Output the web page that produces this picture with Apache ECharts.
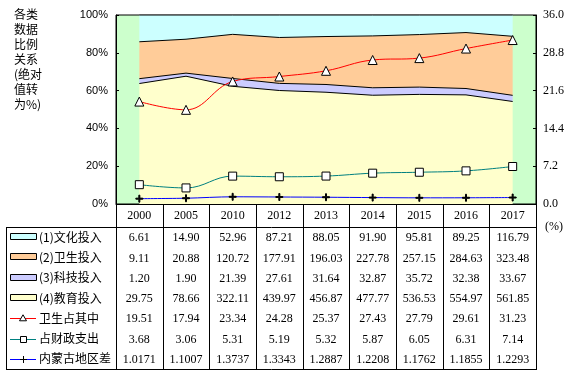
<!DOCTYPE html>
<html>
<head>
<meta charset="utf-8">
<script src="https://cdn.jsdelivr.net/npm/echarts@6/dist/echarts.min.js"></script>
<style>
  html, body { margin: 0; padding: 0; background: #fff; }
  #chart { width: 577px; height: 376px; }
</style>
</head>
<body>
<div id="chart"></div>
<script>
  // data
  let years = ['2000', '2005', '2010', '2012', '2013', '2014', '2015', '2016', '2017']
  let culture = [6.61, 14.90, 52.96, 87.21, 88.05, 91.90, 95.81, 89.25, 116.79]
  let health = [9.11, 20.88, 120.72, 177.91, 196.03, 227.78, 257.15, 284.63, 323.48]
  let science = [1.20, 1.90, 21.39, 27.61, 31.64, 32.87, 35.72, 32.38, 33.67]
  let education = [29.75, 78.66, 322.11, 439.97, 456.87, 477.77, 536.53, 554.97, 561.85]
  let healthShare = [19.51, 17.94, 23.34, 24.28, 25.37, 27.43, 27.79, 29.61, 31.23]
  let fiscalShare = [3.68, 3.06, 5.31, 5.19, 5.32, 5.87, 6.05, 6.31, 7.14]
  let regionGap = [1.0171, 1.1007, 1.3737, 1.3343, 1.2887, 1.2208, 1.1762, 1.1855, 1.2293]
  let rowNames = ['(1)文化投入', '(2)卫生投入', '(3)科技投入', '(4)教育投入', '卫生占其中', '占财政支出', '内蒙古地区差']
  let titleLines = ['各类', '数据', '比例', '关系', '(绝对', '值转', '为%)']

  // 100% stacked: each category's share of the yearly total
  let totals = years.map((y, i) => culture[i] + health[i] + science[i] + education[i])
  let pct = arr => arr.map((v, i) => v / totals[i] * 100)

  let L = 116, R = 536, T = 15, B = 204
  let colW = (R - L) / years.length
  let tableTop = 227, tableBottom = 369
  let rowH = (tableBottom - tableTop) / rowNames.length
  let serif = '"Liberation Serif", "Times New Roman", serif'
  let cjk = '"Noto Sans CJK SC", sans-serif'

  let graphic = []
  let hline = (x1, x2, y) => graphic.push({type: 'line', shape: {x1: x1, y1: y + 0.5, x2: x2, y2: y + 0.5}, style: {stroke: '#000', lineWidth: 1}, z: 10})
  let vline = (x, y1, y2) => graphic.push({type: 'line', shape: {x1: Math.round(x) + 0.5, y1: y1, x2: Math.round(x) + 0.5, y2: y2}, style: {stroke: '#000', lineWidth: 1}, z: 10})

  // title text on the left
  titleLines.forEach((t, i) => {
    graphic.push({type: 'text', left: 14, top: 8 + i * 15, style: {text: t, font: '12px ' + cjk, fill: '#000'}})
  })
  graphic.push({type: 'text', left: 545, top: 221, style: {text: '(%)', font: '12px ' + serif, fill: '#000'}})

  // table grid
  for (let i = 0; i <= years.length; i++) vline(L + i * colW, B, tableBottom + 1)
  vline(6, tableTop, tableBottom + 1)
  hline(6, R + 1, tableTop)
  hline(6, R + 1, tableBottom)

  let tableRows = [culture, health, science, education, healthShare, fiscalShare, regionGap]
  let areaColors = ['#CCFFFF', '#FFCC99', '#CCCCFF', '#FFFFCC']
  let lineColors = ['#FF0000', '#008080', '#0000FF']

  tableRows.forEach((row, r) => {
    let cy = tableTop + rowH * (r + 0.5)
    // legend key
    if (r < 4) {
      graphic.push({type: 'rect', shape: {x: 10.5, y: Math.round(cy) - 3.5, width: 26, height: 6}, style: {fill: areaColors[r], stroke: '#000', lineWidth: 1}, z: 10})
    } else {
      let c = lineColors[r - 4]
      graphic.push({type: 'line', shape: {x1: 10, y1: Math.round(cy) + 0.5, x2: 36, y2: Math.round(cy) + 0.5}, style: {stroke: c, lineWidth: 1}, z: 10})
      if (r == 4) graphic.push({type: 'polygon', shape: {points: [[23, cy - 3.5], [19.5, cy + 2.5], [26.5, cy + 2.5]]}, style: {fill: '#fff', stroke: '#000'}, z: 11})
      if (r == 5) graphic.push({type: 'rect', shape: {x: 20.5, y: Math.round(cy) - 2.5, width: 6, height: 6}, style: {fill: '#fff', stroke: '#000'}, z: 11})
      if (r == 6) {
        graphic.push({type: 'line', shape: {x1: 20, y1: Math.round(cy) + 0.5, x2: 27, y2: Math.round(cy) + 0.5}, style: {stroke: '#000'}, z: 11})
        graphic.push({type: 'line', shape: {x1: 23.5, y1: Math.round(cy) - 3, x2: 23.5, y2: Math.round(cy) + 4}, style: {stroke: '#000'}, z: 11})
      }
    }
    graphic.push({type: 'text', x: 39, y: cy, style: {text: rowNames[r], font: '12px ' + cjk, fill: '#000', verticalAlign: 'middle'}, z: 10})
    let digits = r == 6 ? 4 : 2
    row.forEach((v, i) => {
      graphic.push({type: 'text', x: L + colW * (i + 0.5), y: cy + 1, style: {text: v.toFixed(digits), font: '12px ' + serif, fill: '#000', align: 'center', verticalAlign: 'middle'}, z: 10})
    })
  })

  let area = (name, data, color) => ({
    name: name, type: 'line', stack: 'total', data: pct(data),
    symbol: 'none', lineStyle: {color: '#000', width: 1},
    areaStyle: {color: color, opacity: 1}, z: 2
  })
  let line = (name, data, color, symbol, size, smooth) => ({
    name: name, type: 'line', yAxisIndex: 1, data: data, smooth: smooth,
    symbol: symbol, symbolSize: size, showAllSymbol: true,
    lineStyle: {color: color, width: 1},
    itemStyle: {color: symbol.indexOf('path') == 0 ? '#000' : '#fff', borderColor: '#000', borderWidth: 1},
    z: 5
  })

  let myChart = echarts.init(document.getElementById('chart'))
  let option = {
    animation: false,
    grid: {left: L, right: 577 - R, top: T, bottom: 376 - B, show: true, backgroundColor: '#CCFFCC', borderColor: '#000', borderWidth: 1},
    xAxis: {
      type: 'category', data: years, boundaryGap: true,
      axisLine: {lineStyle: {color: '#000'}},
      axisTick: {show: false},
      axisLabel: {color: '#000', fontFamily: serif, fontSize: 12, margin: 6, interval: 0}
    },
    yAxis: [{
      type: 'value', min: 0, max: 100, interval: 20,
      axisLine: {show: true, lineStyle: {color: '#000'}},
      axisTick: {show: true, inside: true, length: 3, lineStyle: {color: '#000'}},
      splitLine: {show: false},
      axisLabel: {color: '#000', fontFamily: '"Liberation Sans", Arial, sans-serif', fontSize: 11, margin: 8, formatter: '{value}%'}
    }, {
      type: 'value', min: 0, max: 36, interval: 7.2, position: 'right',
      axisLine: {show: true, lineStyle: {color: '#000'}},
      axisTick: {show: true, inside: true, length: 3, lineStyle: {color: '#000'}},
      splitLine: {show: false},
      axisLabel: {color: '#000', fontFamily: serif, fontSize: 12, margin: 7, formatter: v => v.toFixed(1)}
    }],
    graphic: graphic,
    series: [
      area('(4)教育投入', education, '#FFFFCC'),
      area('(3)科技投入', science, '#CCCCFF'),
      area('(2)卫生投入', health, '#FFCC99'),
      area('(1)文化投入', culture, '#CCFFFF'),
      line('卫生占其中', healthShare, '#FF0000', 'triangle', 9, 0.4),
      line('占财政支出', fiscalShare, '#008080', 'rect', 8, 0.4),
      line('内蒙古地区差', regionGap, '#0000FF', 'path://M3,0h1v3h3v1h-3v3h-1v-3h-3v-1h3z', 7, 0.3)
    ]
  }
  myChart.setOption(option)
</script>
</body>
</html>
